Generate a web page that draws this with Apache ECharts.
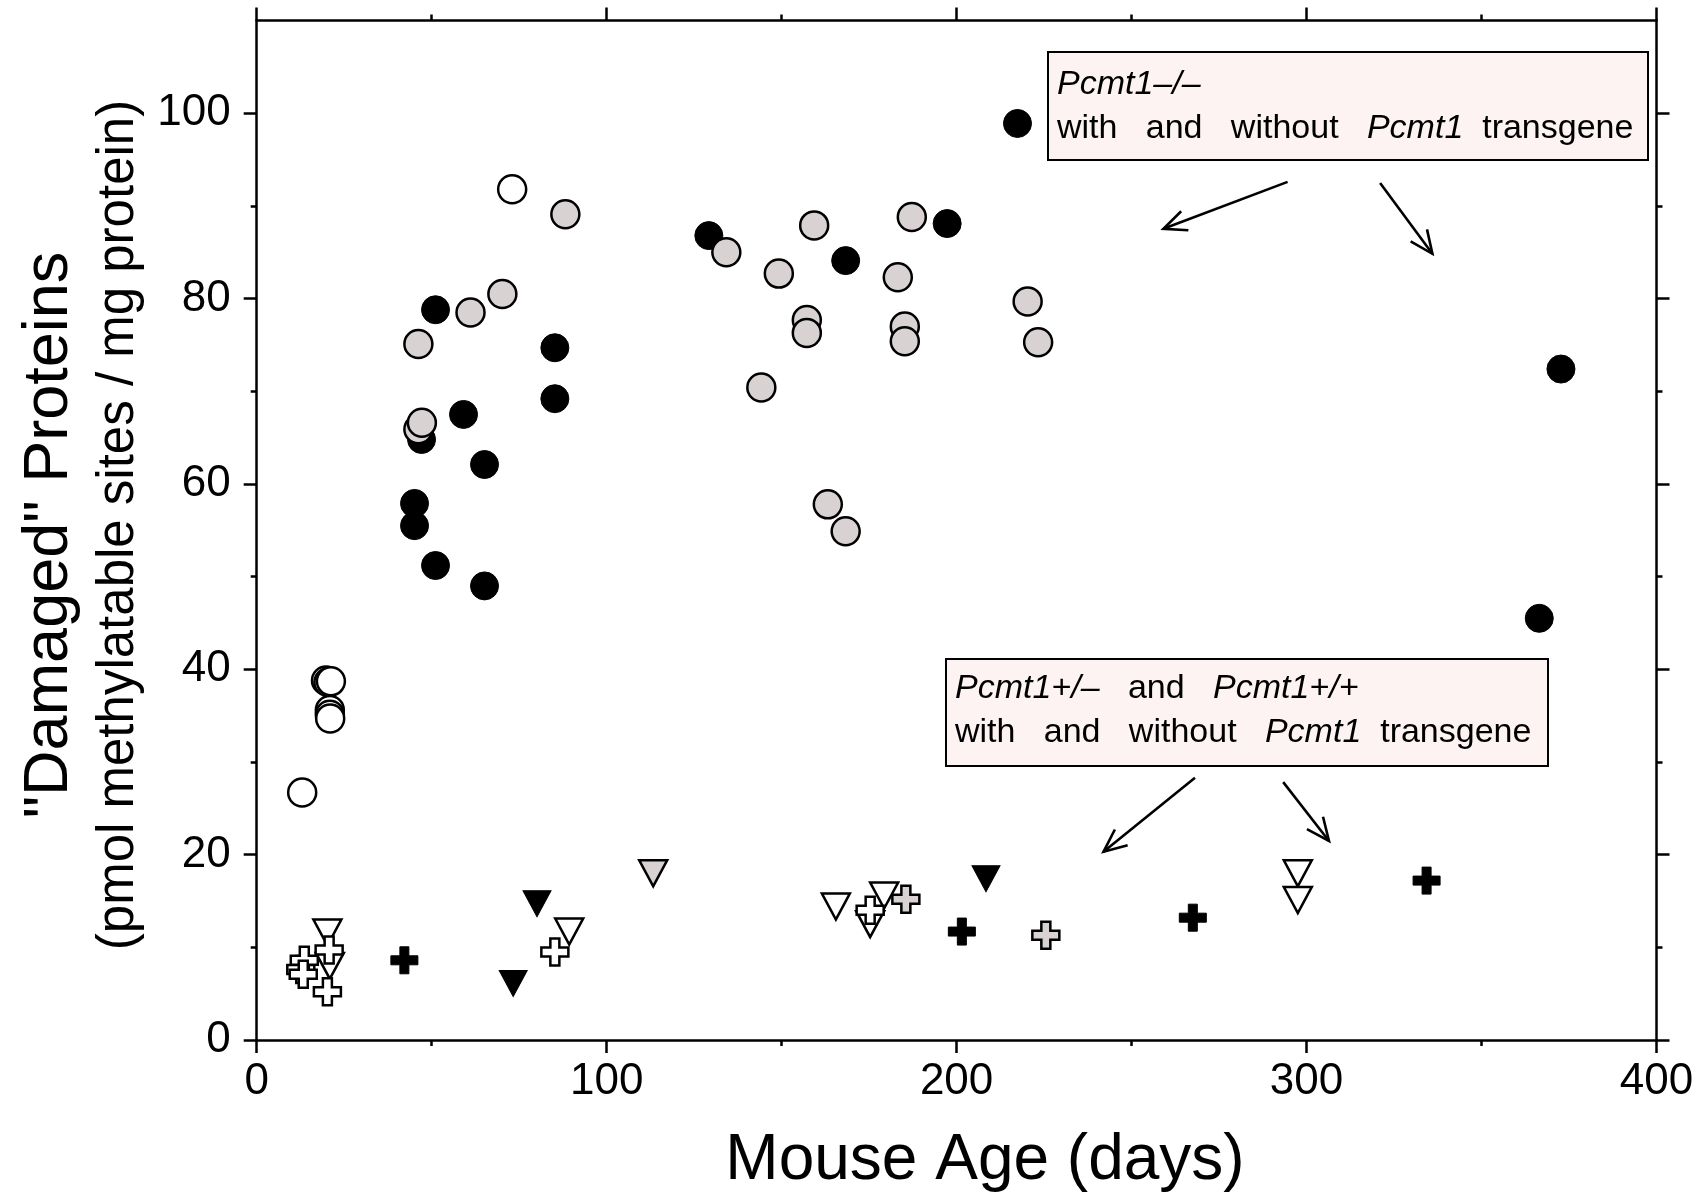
<!DOCTYPE html>
<html><head><meta charset="utf-8">
<script src="https://cdn.jsdelivr.net/npm/echarts@6/dist/echarts.min.js"></script>
<style>html,body{margin:0;padding:0;background:#fff}#c{width:1708px;height:1196px}</style>
</head><body><div id="c"></div>
<script>
// ---- data (Mouse age in days, pmol methylatable sites / mg protein) ----
const xTicks = [0, 100, 200, 300, 400];
const yTicks = [0, 20, 40, 60, 80, 100];
const yMinorTicks = [10, 30, 50, 70, 90];

// Pcmt1-/- groups (circles)
const circlesBlack = [[45.1,57.9],[45.1,55.5],[47.1,64.8],[51.1,51.2],[51.1,78.8],[59.1,67.5],[65.1,62.1],[65.1,49.0],
  [85.2,74.7],[85.2,69.2],[129.2,86.8],[168.3,84.1],[197.3,88.1],[217.4,98.9],[366.5,45.5],[372.7,72.4]];
const circlesGray = [[46.2,75.1],[46.2,65.9],[47.2,66.6],[61.1,78.5],[70.2,80.5],[88.2,89.1],[134.2,85.0],[144.2,70.4],
  [149.2,82.7],[157.2,77.7],[157.2,76.3],[159.3,87.9],[163.2,57.8],[168.3,54.9],[183.2,82.3],[185.2,77.0],
  [185.2,75.4],[187.2,88.8],[220.3,79.7],[223.3,75.3]];
const circlesOpen = [[13.0,26.7],[19.8,38.8],[20.5,38.6],[21.2,38.7],[20.9,35.6],[20.9,35.1],[21.0,34.7],[73.0,91.8]];

// Pcmt1+/- and Pcmt1+/+ groups (triangles and crosses)
const trianglesBlack = [[73.3,6.1],[80.1,14.7],[208.4,17.4]];
const trianglesGray = [[113.3,18.0]];
const trianglesOpen = [[20.2,11.6],[20.9,8.0],[89.3,11.7],[165.5,14.4],[175.3,12.5],[179.3,15.6],[297.5,18.0],[297.5,15.1]];
const crossesBlack = [[42.2,8.6],[201.5,11.7],[267.5,13.2],[334.3,17.2]];
const crossesGray = [[185.5,15.2],[225.5,11.3]];
const crossesOpen = [[12.6,7.6],[13.6,8.6],[13.3,7.1],[20.7,9.7],[20.2,5.2],[85.2,9.5],[175.3,14.0]];

const FONT = '"Liberation Sans", Arial, Helvetica, sans-serif';
const GRAY = '#d8d2d3';
const CROSS = 'path://M10 0H20V10H30V20H20V30H10V20H0V10H10Z';

function sc(data, symbol, size, fill, border, bw, rot) {
  return { type: 'scatter', data: data, symbol: symbol, symbolSize: size, symbolRotate: rot || 0,
    itemStyle: { color: fill, borderColor: border, borderWidth: bw, opacity: 1 },
    emphasis: { disabled: true }, silent: true, xAxisIndex: 0, yAxisIndex: 0 };
}

const tickStyle = { color: '#000', width: 2.5 };
const lineOn = { show: true, onZero: false, lineStyle: { color: '#000', width: 2.5 } };

function xAx(pos, labels) {
  return { type: 'value', position: pos, min: 0, max: 400, interval: 100,
    axisLine: lineOn, axisTick: { show: true, length: 13, lineStyle: tickStyle },
    minorTick: { show: true, splitNumber: 2, length: 6, lineStyle: tickStyle },
    axisLabel: { show: labels, fontSize: 44, fontFamily: FONT, color: '#000', margin: 20 },
    splitLine: { show: false }, minorSplitLine: { show: false } };
}
function yAx(pos, labels) {
  return { type: 'value', position: pos, min: 0, max: 110, interval: 20,
    axisLine: lineOn,
    axisTick: { show: true, length: 13, lineStyle: tickStyle, customValues: yTicks },
    axisLabel: { show: labels, fontSize: 44, fontFamily: FONT, color: '#000', margin: 26, customValues: yTicks,
      formatter: v => (v > 100 ? '' : String(v)) },
    splitLine: { show: false } };
}
function yMinor(pos) {
  return { type: 'value', position: pos, min: 0, max: 110, interval: 10,
    axisLine: { show: false, onZero: false },
    axisTick: { show: true, length: 6, lineStyle: tickStyle, customValues: yMinorTicks },
    axisLabel: { show: false }, splitLine: { show: false } };
}

function arrow(x1, y1, x2, y2) {
  const L = 25, th = 24 * Math.PI / 180;
  const dx = x2 - x1, dy = y2 - y1, d = Math.hypot(dx, dy);
  const ux = dx / d, uy = dy / d;
  const rot = (a) => [ux * Math.cos(a) - uy * Math.sin(a), ux * Math.sin(a) + uy * Math.cos(a)];
  const a1 = rot(th), a2 = rot(-th);
  const st = { stroke: '#000', lineWidth: 2.6, fill: null };
  return [
    { type: 'line', shape: { x1: x1, y1: y1, x2: x2, y2: y2 }, style: st },
    { type: 'polyline', shape: { points: [[x2 - L * a1[0], y2 - L * a1[1]], [x2, y2], [x2 - L * a2[0], y2 - L * a2[1]]] }, style: st }
  ];
}

const richStyles = {
  i: { fontStyle: 'italic', fontSize: 34, fontFamily: FONT, lineHeight: 44, fill: '#000' },
  n: { fontSize: 34, fontFamily: FONT, lineHeight: 44, fill: '#000' }
};

const graphics = [
  { type: 'rect', shape: { x: 1048, y: 52, width: 600, height: 108 }, style: { fill: '#fdf3f3', stroke: '#000', lineWidth: 2 }, z: 50 },
  { type: 'text', x: 1057, y: 63, z: 51, style: { text: '{i|Pcmt1–/–}\n{n|with   and   without   }{i|Pcmt1}{n|  transgene}', rich: richStyles, fontSize: 34, fontFamily: FONT, fill: '#000' } },
  { type: 'rect', shape: { x: 946, y: 659, width: 602, height: 107 }, style: { fill: '#fdf3f3', stroke: '#000', lineWidth: 2 }, z: 50 },
  { type: 'text', x: 955, y: 667, z: 51, style: { text: '{i|Pcmt1+/–}{n|   and   }{i|Pcmt1+/+}\n{n|with   and   without   }{i|Pcmt1}{n|  transgene}', rich: richStyles, fontSize: 34, fontFamily: FONT, fill: '#000' } },
  ...arrow(1287.6, 181.9, 1163.4, 228.8),
  ...arrow(1380.1, 183.0, 1432.4, 253.8),
  ...arrow(1195.0, 777.8, 1103.5, 851.8),
  ...arrow(1283.2, 782.1, 1329.0, 841.0),
  { type: 'text', x: 985, y: 1161, style: { text: 'Mouse Age (days)', fontSize: 64, fontFamily: FONT, fill: '#000', align: 'center', verticalAlign: 'middle' } },
  { type: 'text', x: 50, y: 535, rotation: Math.PI / 2, style: { text: '"Damaged" Proteins', fontSize: 63, fontFamily: FONT, fill: '#000', align: 'center', verticalAlign: 'middle' } },
  { type: 'text', x: 119, y: 525, rotation: Math.PI / 2, style: { text: '(pmol methylatable sites / mg protein)', fontSize: 51, fontFamily: FONT, fill: '#000', align: 'center', verticalAlign: 'middle' } }
];

const chart = echarts.init(document.getElementById('c'), null, { renderer: 'canvas' });
chart.setOption({
  animation: false,
  backgroundColor: '#fff',
  grid: { left: 256.7, right: 51.5, top: 20.6, bottom: 156, containLabel: false },
  xAxis: [xAx('bottom', true), xAx('top', false)],
  yAxis: [yAx('left', true), yMinor('left'), yAx('right', false), yMinor('right')],
  series: [
    sc(circlesBlack, 'circle', 28, '#000', '#000', 1),
    sc(circlesGray, 'circle', 28, GRAY, '#000', 2.5),
    sc(circlesOpen, 'circle', 28, '#fff', '#000', 2.5),
    sc(trianglesBlack, 'triangle', [28, 26], '#000', '#000', 1, 180),
    sc(trianglesGray, 'triangle', [28, 26], GRAY, '#000', 2.5, 180),
    sc(trianglesOpen, 'triangle', [28, 26], '#fff', '#000', 2.5, 180),
    sc(crossesBlack, CROSS, 27, '#000', '#000', 1),
    sc(crossesGray, CROSS, 27, GRAY, '#000', 2.5),
    sc(crossesOpen, CROSS, 27, '#fff', '#000', 2.5)
  ],
  graphic: graphics
});
</script></body></html>
